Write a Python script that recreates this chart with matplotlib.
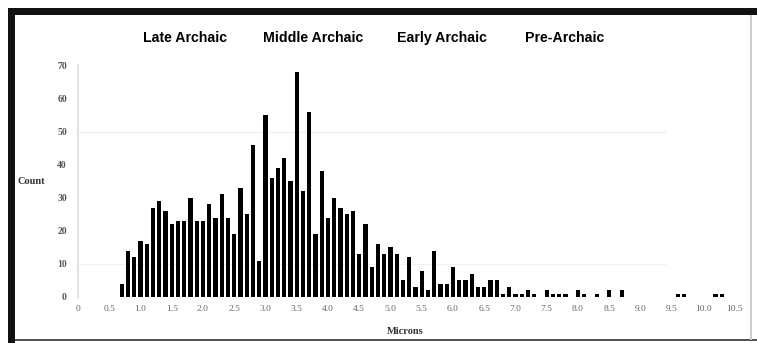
import matplotlib
matplotlib.use("Agg")
import matplotlib.pyplot as plt
from matplotlib.patches import Rectangle

# particle size bins (microns) and counts per 0.1 micron bin
microns = [0.7, 0.8, 0.9, 1.0, 1.1, 1.2, 1.3, 1.4, 1.5, 1.6, 1.7, 1.8, 1.9,
           2.0, 2.1, 2.2, 2.3, 2.4, 2.5, 2.6, 2.7, 2.8, 2.9,
           3.0, 3.1, 3.2, 3.3, 3.4, 3.5, 3.6, 3.7, 3.8, 3.9,
           4.0, 4.1, 4.2, 4.3, 4.4, 4.5, 4.6, 4.7, 4.8, 4.9,
           5.0, 5.1, 5.2, 5.3, 5.4, 5.5, 5.6, 5.7, 5.8, 5.9,
           6.0, 6.1, 6.2, 6.3, 6.4, 6.5, 6.6, 6.7, 6.8, 6.9,
           7.0, 7.1, 7.2, 7.3, 7.5, 7.6, 7.7, 7.8,
           8.0, 8.1, 8.3, 8.5, 8.7, 9.6, 9.7, 10.2, 10.3]
counts = [4, 14, 12, 17, 16, 27, 29, 26, 22, 23, 23, 30, 23,
          23, 28, 24, 31, 24, 19, 33, 25, 46, 11,
          55, 36, 39, 42, 35, 68, 32, 56, 19, 38,
          24, 30, 27, 25, 26, 13, 22, 9, 16, 13,
          15, 13, 5, 12, 3, 8, 2, 14, 4, 4,
          9, 5, 5, 7, 3, 3, 5, 5, 1, 3,
          1, 1, 2, 1, 2, 1, 1, 1,
          2, 1, 1, 2, 2, 1, 1, 1, 1]

periods = ["Late Archaic", "Middle Archaic", "Early Archaic", "Pre-Archaic"]
period_x = [185, 313, 442, 565]   # label centres in pixels

xticks = [i * 0.5 for i in range(22)]
xtick_labels = ["0"] + ["%.1f" % v for v in xticks[1:]]
yticks = list(range(0, 71, 10))

W, H = 757, 343
fig = plt.figure(figsize=(W / 100, H / 100), dpi=100)
fig.patch.set_facecolor("white")

# axes placed in pixel units: x=0 at 78px, 62.5 px per micron; y=0 at 297px
ax_w = 670
ax = fig.add_axes([78 / W, (H - 297) / H, ax_w / W, (297 - 65.3) / H])
ax.set_xlim(0, ax_w / 62.5)
ax.set_ylim(0, 70)

for yv in [10, 50]:
    ax.plot([0, 9.4], [yv, yv], color="#f0f0f0", lw=1, zorder=0)

ax.bar(microns, counts, width=0.065, color="black", zorder=2)

ax.set_xticks(xticks)
ax.set_xticklabels(xtick_labels, fontsize=6.8, color="#666666",
                   family="Liberation Serif")
ax.set_yticks(yticks)
ax.set_yticklabels([str(v) for v in yticks], fontsize=7, color="#555555",
                   family="Liberation Serif", fontweight="bold")
ax.tick_params(length=0, pad=8)
ax.tick_params(axis="x", pad=6)

for s in ["top", "right", "bottom"]:
    ax.spines[s].set_visible(False)
ax.spines["left"].set_color("#e2e2e2")
ax.spines["left"].set_linewidth(1.5)

fig.text(18 / W, 1 - 182 / H, "Count", fontsize=7.5, family="Liberation Serif",
         fontweight="bold", color="#333333", ha="left", va="center")
fig.text(405 / W, 1 - 332 / H, "Microns", fontsize=7.5, family="Liberation Serif",
         fontweight="bold", color="#333333", ha="center", va="center")

for name, px in zip(periods, period_x):
    fig.text(px / W, 1 - 38 / H, name, fontsize=10.2, family="Liberation Sans",
             fontweight="bold", color="black", ha="center", va="center")

# page frame: heavy black top and left edges, thin grey bottom and right
fig.add_artist(Rectangle((8 / W, 1 - 15 / H), 1 - 8 / W, 7 / H,
                         transform=fig.transFigure, color="#111111", lw=0))
fig.add_artist(Rectangle((8 / W, 0), 7 / W, 1 - 8 / H,
                         transform=fig.transFigure, color="#111111", lw=0))
fig.add_artist(Rectangle((15 / W, 2 / H), 1 - 15 / W, 2 / H,
                         transform=fig.transFigure, color="#555555", lw=0))
fig.add_artist(Rectangle((750 / W, 3 / H), 1.5 / W, 1 - 18 / H,
                         transform=fig.transFigure, color="#cccccc", lw=0))

fig.savefig("out.png", dpi=100, facecolor="white")
